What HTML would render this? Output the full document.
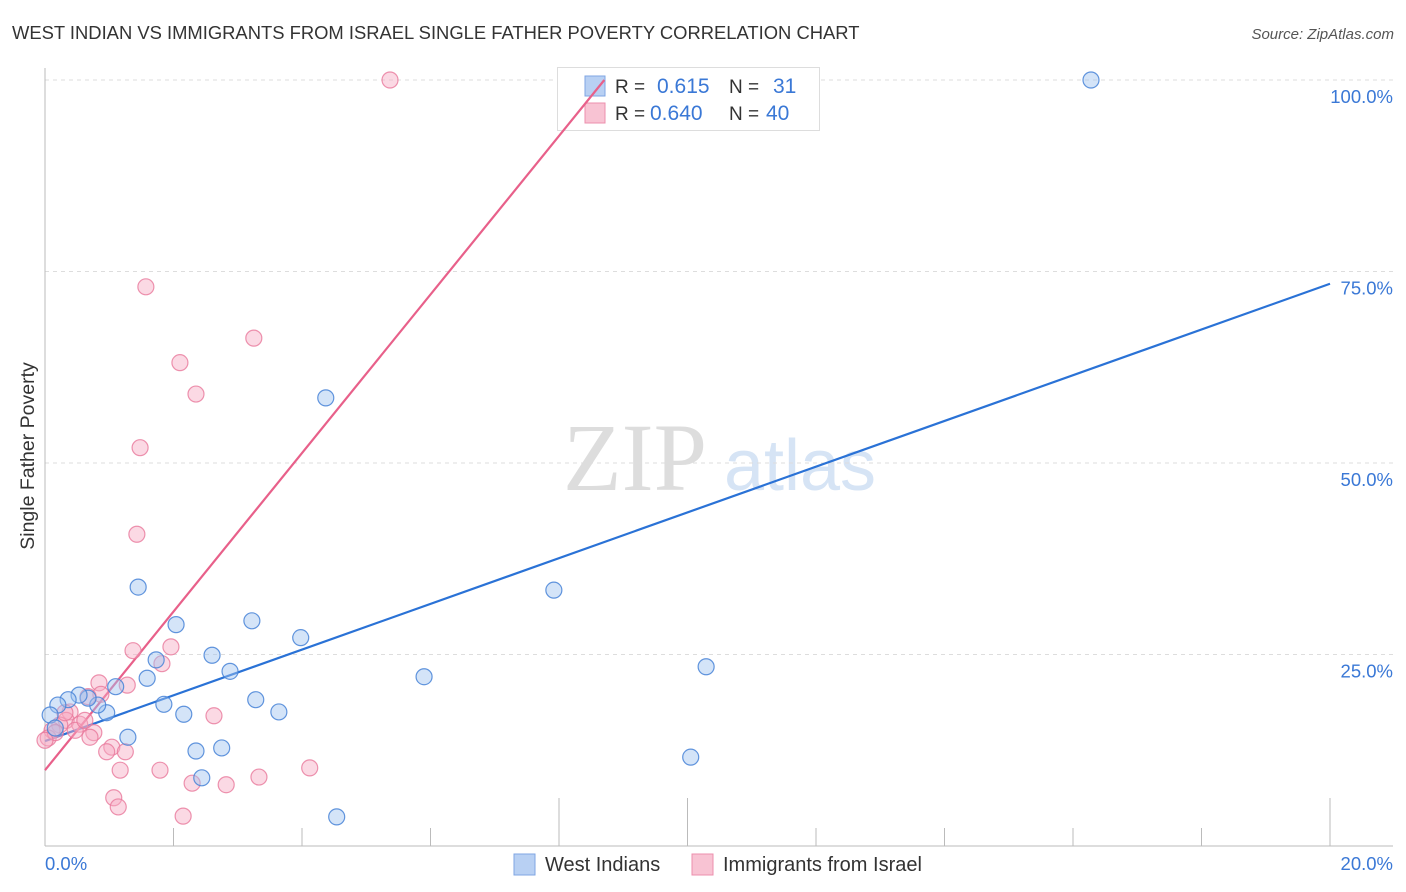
<!DOCTYPE html>
<html><head><meta charset="utf-8"><style>
body{margin:0;background:#fff;font-family:"Liberation Sans",sans-serif;}
svg{display:block}
</style></head><body>
<svg id="chart" width="1406" height="892" xmlns="http://www.w3.org/2000/svg">
<text x="12" y="39" font-size="18.4" fill="#333">WEST INDIAN VS IMMIGRANTS FROM ISRAEL SINGLE FATHER POVERTY CORRELATION CHART</text>
<text x="1394" y="39" font-size="15" fill="#555" font-style="italic" text-anchor="end">Source: ZipAtlas.com</text>
<g>
<text x="635" y="490" font-size="96" fill="#ddd" font-family="Liberation Serif,serif" text-anchor="middle">ZIP</text>
<text x="800" y="490" font-size="72" fill="#d6e4f5" text-anchor="middle">atlas</text>
</g>
<g id="grid"></g>
<g id="axes"></g>
<g>
<rect x="557.5" y="67.5" width="262" height="63" fill="#fff" stroke="#ddd"/>
<rect x="585" y="76" width="20" height="20" fill="#b8d0f3" stroke="#7fa6e3"/>
<rect x="585" y="103" width="20" height="20" fill="#f8c3d3" stroke="#ec8fac"/>
<text x="615" y="93" font-size="19" fill="#333">R = </text><text x="657" y="93" font-size="21" fill="#3a78d6">0.615</text>
<text x="729" y="93" font-size="19" fill="#333">N = </text><text x="773" y="93" font-size="21" fill="#3a78d6">31</text>
<text x="615" y="120" font-size="19" fill="#333">R = </text><text x="650" y="120" font-size="21" fill="#3a78d6">0.640</text>
<text x="729" y="120" font-size="19" fill="#333">N = </text><text x="766" y="120" font-size="21" fill="#3a78d6">40</text>
</g>
<g id="lines"></g>
<g id="points"></g>
<text transform="translate(34,456) rotate(-90)" font-size="19.5" fill="#333" text-anchor="middle">Single Father Poverty</text>
<text x="45" y="870" font-size="18.5" fill="#3a78d6">0.0%</text>
<text x="1393" y="870" font-size="18.5" fill="#3a78d6" text-anchor="end">20.0%</text>
<g>
<rect x="514" y="854" width="21" height="21" fill="#b8d0f3" stroke="#7fa6e3"/>
<text x="545" y="871" font-size="20" fill="#333">West Indians</text>
<rect x="692" y="854" width="21" height="21" fill="#f8c3d3" stroke="#ec8fac"/>
<text x="723" y="871" font-size="20" fill="#333">Immigrants from Israel</text>
</g>
</svg>
<script>
const yTicks=[25,50,75,100];
const yTickLabels=["25.0%","50.0%","75.0%","100.0%"];
const xTicks=[0,2,4,6,8,10,12,14,16,18,20];
const blueX=[1.45,2.04,1.73,1.59,1.85,2.16,2.60,2.88,3.22,3.28,3.64,3.98,4.37,5.90,7.92,10.29,10.05,16.28,4.54,2.35,2.75,2.44,1.29,1.10,0.96,0.82,0.67,0.53,0.36,0.20,0.08,0.16];
const blueY=[33.8,28.9,24.3,21.9,18.5,17.2,24.9,22.8,29.4,19.1,17.5,27.2,58.5,22.1,33.4,23.4,11.6,100,3.8,12.4,12.8,8.9,14.2,20.8,17.4,18.4,19.3,19.7,19.1,18.4,17.1,15.4];
const pinkX=[5.37,1.57,3.25,2.10,2.35,1.48,1.43,1.37,1.96,1.82,1.28,0.84,0.87,0.67,2.63,0.39,0.33,0.23,0.11,0.05,0.54,0.76,0.70,1.04,0.96,1.25,1.17,1.79,1.07,1.14,2.29,2.82,3.33,4.12,2.15,0.47,0.16,0.31,0,0.62];
const pinkY=[100,73.0,66.3,63.1,59.0,52.0,40.7,25.5,26.0,23.8,21.0,21.3,19.8,19.5,17.0,17.5,16.4,15.8,15.1,14.1,15.9,14.8,14.2,12.9,12.3,12.3,9.9,9.9,6.3,5.1,8.2,8.0,9.0,10.2,3.9,15.1,14.8,17.4,13.8,16.4];
const blueFit=[13.7,2.985];
const pinkFit=[9.9,10.35];
const NS="http://www.w3.org/2000/svg";
const X0=45,X1=1330,Y0=846,PXY=7.66;
function sx(v){return X0+v*(X1-X0)/20;}
function sy(v){return Y0-v*PXY;}
function mk(tag,attrs,parent){const e=document.createElementNS(NS,tag);for(const k in attrs)e.setAttribute(k,attrs[k]);parent.appendChild(e);return e;}
const grid=document.getElementById('grid'),axes=document.getElementById('axes'),lines=document.getElementById('lines'),pts=document.getElementById('points');
yTicks.forEach((t,i)=>{
 const l=mk('line',{x1:45,x2:1393,y1:sy(t),y2:sy(t),stroke:'#ddd','stroke-dasharray':'4,4'},grid);
 
 
 const tx=mk('text',{x:1393,y:sy(t)+23,'font-size':18.5,fill:'#3a78d6','text-anchor':'end'},grid);
 tx.textContent=yTickLabels[i];
 
 
});
let a=mk('line',{x1:45,x2:45,y1:68,y2:846,stroke:'#bbb'},axes);


a=mk('line',{x1:45,x2:1393,y1:846,y2:846,stroke:'#bbb'},axes);


xTicks.forEach(t=>{
 const tall=(t==8||t==10||t==20);
 const l=mk('line',{x1:sx(t),x2:sx(t),y1:tall?798:828,y2:846,stroke:'#bbb'},axes);
 
 
});
function dots(xs,ys,fill,stroke,name){
 xs.forEach((x,i)=>{
  const c=mk('circle',{cx:sx(x),cy:sy(ys[i]),r:8,fill:fill,stroke:stroke,'stroke-width':1.2},pts);
  
  
 });
}
dots(pinkX,pinkY,'rgba(246,170,195,0.45)','rgba(232,120,155,0.8)','israel-point');
dots(blueX,blueY,'rgba(160,195,240,0.45)','rgba(70,130,215,0.85)','west-indian-point');
let bl=mk('line',{x1:sx(0),y1:sy(blueFit[0]),x2:sx(20),y2:sy(blueFit[0]+20*blueFit[1]),stroke:'#2a72d6','stroke-width':2.2},lines);


const pxEnd=(100-pinkFit[0])/pinkFit[1];
let pl=mk('line',{x1:sx(0),y1:sy(pinkFit[0]),x2:sx(pxEnd),y2:sy(100),stroke:'#e8608a','stroke-width':2.2},lines);


</script>
</body></html>
